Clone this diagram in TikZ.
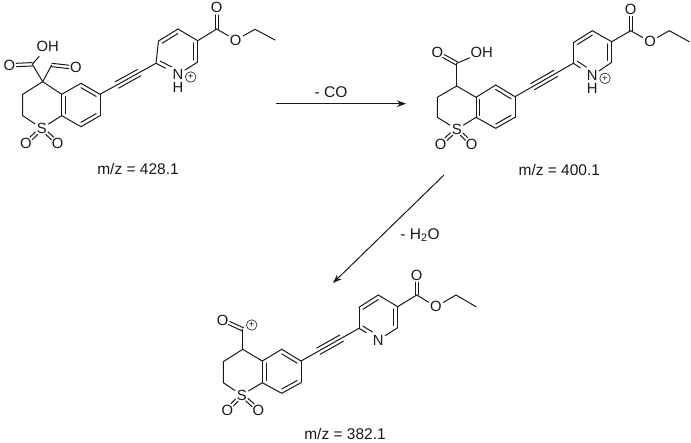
\documentclass[tikz,border=0pt]{standalone}
\usepackage{fontspec}
\setmainfont{Liberation Sans}
\usetikzlibrary{calc,arrows.meta}
\tikzset{
  x=1pt,y=-1pt,
  bond/.style={line width=1pt,black!90,line cap=round},
  atom/.style={circle,inner sep=0.4pt,font=\fontsize{14.8}{14.8}\selectfont,text=black!90},
  caption/.style={inner sep=0,font=\fontsize{15.5}{15.5}\selectfont,text=black!90},
  chg/.style={circle,draw=black!90,line width=0.6pt,inner sep=0,minimum size=10.5pt,font=\fontsize{9.5}{9.5}\selectfont,text=black!90},
  rxn/.style={line width=1pt,black!90,-{Stealth[length=9pt,width=6.5pt]}}
}
% inner ring double bond: a, b, ring centre
\newcommand{\ringdb}[3]{\draw[bond] (#1) -- (#2);\draw[bond] ($(#1)!0.2!(#3)$) -- ($(#2)!0.2!(#3)$);}
% double bond with a hetero atom: a, b, shorten at a, shorten at b
\newcommand{\hetdb}[4]{\draw[bond,shorten <=#3,shorten >=#4] ($(#1)!1.7pt!90:(#2)$) -- ($(#2)!1.7pt!-90:(#1)$);\draw[bond,shorten <=#3,shorten >=#4] ($(#1)!1.7pt!-90:(#2)$) -- ($(#2)!1.7pt!90:(#1)$);}
% everything the three ions share
\newcommand{\corebonds}[1]{%
  \coordinate (#1bz) at ($(#1c4a)!.5!(#1c7)$);
  \coordinate (#1pz) at ($(#1p2)!.5!(#1p5)$);
  \draw[bond] (#1c4) -- (#1c3) -- (#1c2) -- (#1s);
  \draw[bond] (#1s) -- (#1c8a);
  \draw[bond] (#1c4) -- (#1c4a);
  \ringdb{#1c4a}{#1c8a}{#1bz}
  \draw[bond] (#1c4a) -- (#1c5);
  \ringdb{#1c5}{#1c6}{#1bz}
  \draw[bond] (#1c6) -- (#1c7);
  \ringdb{#1c7}{#1c8}{#1bz}
  \draw[bond] (#1c8) -- (#1c8a);
  \hetdb{#1s}{#1oa}{7pt}{7pt}
  \hetdb{#1s}{#1ob}{7pt}{7pt}
  \draw[bond] (#1c6) -- (#1p2);
  \draw[bond] ($(#1c6)!.3!(#1p2)!3.6pt!90:(#1p2)$) -- ($(#1c6)!.7!(#1p2)!3.6pt!90:(#1p2)$);
  \draw[bond] ($(#1c6)!.3!(#1p2)!3.6pt!-90:(#1p2)$) -- ($(#1c6)!.7!(#1p2)!3.6pt!-90:(#1p2)$);
  \draw[bond,shorten >=6pt] (#1p2) -- (#1n);
  \draw[bond,shorten >=7pt] ($(#1p2)!0.2!(#1pz)$) -- ($(#1n)!0.2!(#1pz)$);
  \draw[bond] (#1p2) -- (#1p3);
  \ringdb{#1p3}{#1p4}{#1pz}
  \draw[bond] (#1p4) -- (#1p5);
  \ringdb{#1p5}{#1p6}{#1pz}
  \draw[bond] (#1p6) -- (#1n);
  \draw[bond] (#1p5) -- (#1e);
  \hetdb{#1e}{#1eo}{0pt}{7pt}
  \draw[bond] (#1e) -- (#1eq);
  \draw[bond] (#1eq) -- (#1ch);
  \draw[bond] (#1ch) -- (#1me);
}
\begin{document}
\begin{tikzpicture}
\useasboundingbox (0,0) rectangle (691,442);
% ---------- ion 428.1
\coordinate (ac4) at (42.7,81.7);\coordinate (ac3) at (22.7,94.3);\coordinate (ac2) at (22.7,115.7);
\node[atom] (as) at (41.7,128.3) {S};
\coordinate (ac8a) at (61.7,115.7);\coordinate (ac4a) at (61.7,94.3);\coordinate (ac5) at (81,83.3);
\coordinate (ac6) at (100,94.3);\coordinate (ac7) at (100,115.7);\coordinate (ac8) at (81,126.7);
\node[atom] (aoa) at (26,143.3) {O};\node[atom] (aob) at (57.7,143.3) {O};
\coordinate (ap2) at (156,63.3);\coordinate (ap3) at (158.5,41);\coordinate (ap4) at (178,29);
\coordinate (ap5) at (197.7,40.7);\coordinate (ap6) at (197.7,62);
\node[atom] (an) at (178,74.5) {N};\node[atom] (ah) at (178,87.5) {H};
\node[chg] (apl) at (190.7,77) {+};
\coordinate (ae) at (216.7,29);\node[atom] (aeo) at (216.7,7.8) {O};
\node[atom] (aeq) at (235.7,40) {O};\coordinate (ach) at (255,29.3);\coordinate (ame) at (275,40);
\corebonds{a}
\coordinate (aac) at (32.3,64.3);\node[atom] (aao) at (9.3,65.3) {O};\node[atom] (aaoh) at (47.7,46.7) {OH};
\draw[bond] (ac4) -- (aac);\draw[bond] (aac) -- (aaoh);\hetdb{aac}{aao}{0pt}{7pt}
\coordinate (acc) at (51.7,65);\node[atom] (aco) at (76,67.7) {O};
\draw[bond] (ac4) -- (acc);\hetdb{acc}{aco}{0pt}{7pt}
\node[caption] (al) at (138,169) {m/z = 428.1};
% ---------- ion 400.1
\coordinate (bc4) at (456.7,86);\coordinate (bc3) at (437.3,97.3);\coordinate (bc2) at (437.3,117.3);
\node[atom] (bs) at (456.7,129.3) {S};
\coordinate (bc8a) at (476,117.3);\coordinate (bc4a) at (476,97.3);\coordinate (bc5) at (495.7,85);
\coordinate (bc6) at (515,96.7);\coordinate (bc7) at (515,117.3);\coordinate (bc8) at (495.7,128.3);
\node[atom] (boa) at (440.7,144) {O};\node[atom] (bob) at (471.7,144) {O};
\coordinate (bp2) at (573.3,63.3);\coordinate (bp3) at (573.3,42.7);\coordinate (bp4) at (592.3,30.7);
\coordinate (bp5) at (611.7,41.7);\coordinate (bp6) at (611.7,62.3);
\node[atom] (bn) at (592.3,75.5) {N};\node[atom] (bh) at (592.3,88.5) {H};
\node[chg] (bpl) at (605,78.3) {+};
\coordinate (be) at (630.7,30.7);\node[atom] (beo) at (630.7,9.3) {O};
\node[atom] (beq) at (650,41.7) {O};\coordinate (bch) at (669.3,30.7);\coordinate (bme) at (689.3,41.7);
\corebonds{b}
\coordinate (bac) at (456.7,63.3);\node[atom] (bao) at (437.3,52.7) {O};\node[atom] (baoh) at (481.7,52.7) {OH};
\draw[bond] (bc4) -- (bac);\draw[bond] (bac) -- (baoh);\hetdb{bac}{bao}{0pt}{7pt}
\node[caption] (bl) at (559.3,170) {m/z = 400.1};
% ---------- ion 382.1
\coordinate (cc4) at (242.7,349.3);\coordinate (cc3) at (223.3,361.7);\coordinate (cc2) at (223.3,382.7);
\node[atom] (cs) at (241.7,395) {S};
\coordinate (cc8a) at (262.3,382.7);\coordinate (cc4a) at (262.3,361);\coordinate (cc5) at (281.7,349.3);
\coordinate (cc6) at (301,361);\coordinate (cc7) at (301,382.7);\coordinate (cc8) at (281.7,393.3);
\node[atom] (coa) at (227.3,410) {O};\node[atom] (cob) at (258.3,410) {O};
\coordinate (cp2) at (359,328.3);\coordinate (cp3) at (359,307.3);\coordinate (cp4) at (378.3,295);
\coordinate (cp5) at (397.7,306.7);\coordinate (cp6) at (397.7,327.7);
\node[atom] (cn) at (378.3,340) {N};
\coordinate (ce) at (416.7,295);\node[atom] (ceo) at (416.7,275) {O};
\node[atom] (ceq) at (436,306.7) {O};\coordinate (cch) at (456,295);\coordinate (cme) at (476,306.7);
\corebonds{c}
\coordinate (ccc) at (242.7,329.3);\node[atom] (cco) at (222.7,320) {O};
\node[chg] (cpl) at (251.7,325) {+};
\draw[bond] (cc4) -- (ccc);\hetdb{ccc}{cco}{0pt}{7pt}
\node[caption] (cl) at (345,433.8) {m/z = 382.1};
% ---------- arrows
\coordinate (r1s) at (276,103.7);\coordinate (r1e) at (406,103.7);
\draw[rxn] (r1s) -- (r1e);
\node[caption] (r1l) at (331,91.7) {- CO};
\coordinate (r2s) at (444,175);\coordinate (r2e) at (333,283);
\draw[rxn] (r2s) -- (r2e);
\node[caption] (r2l) at (420,235) {- H\textsubscript{2}O};
\end{tikzpicture}
\end{document}
